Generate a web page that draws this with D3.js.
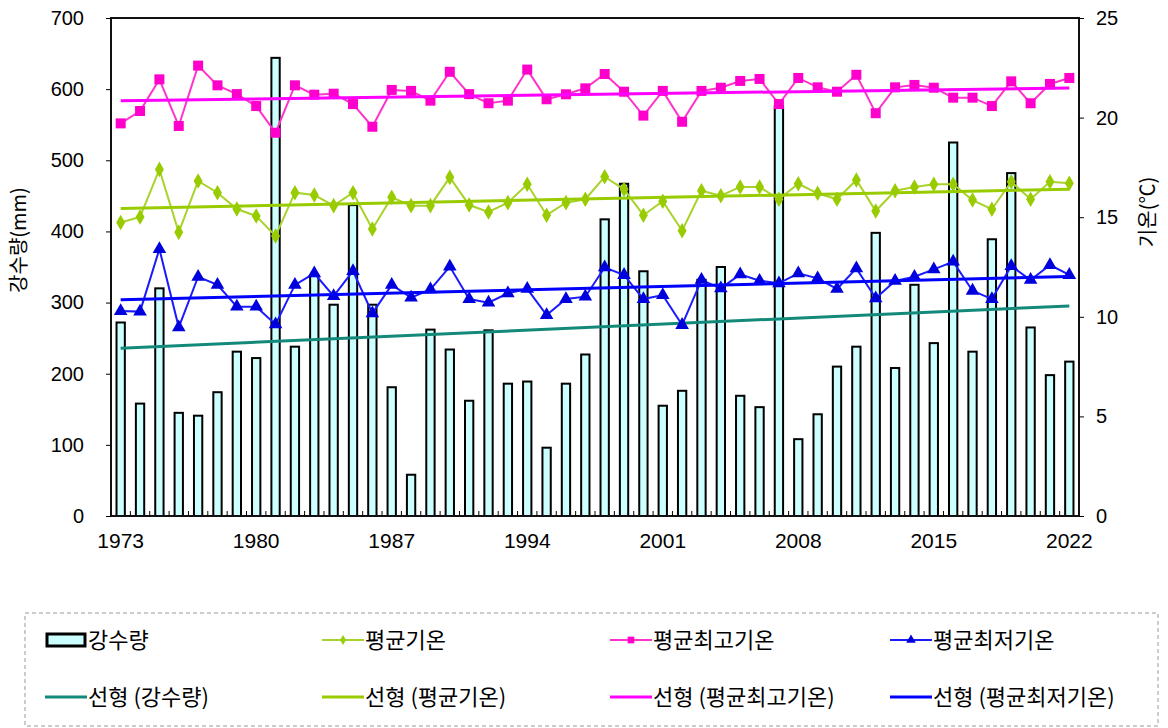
<!DOCTYPE html>
<html>
<head>
<meta charset="utf-8">
<script src="https://cdn.jsdelivr.net/npm/d3@7"></script>
<style>
  body { margin: 0; background: #fff; }
  text { font-family: "Liberation Sans", Arial, sans-serif; fill: #000; }
  .kr { font-family: "Noto Sans CJK KR", "Noto Sans", sans-serif; }
</style>
</head>
<body>
<svg id="chart" width="1168" height="728"></svg>
<script>
	var years = d3.range(1973, 2023),
		yearLabels = [1973, 1980, 1987, 1994, 2001, 2008, 2015, 2022],
		rainTicks = [0, 100, 200, 300, 400, 500, 600, 700],
		tempTicks = [0, 5, 10, 15, 20, 25];

	// 강수량 (mm)
	var rain = [272,158,320,145,141,174,231,222,644,238,
		338,297,437,297,181,58,262,234,162,261,
		186,189,96,186,227,417,467,344,155,176,
		332,350,169,153,576,108,143,210,238,398,
		208,325,243,525,231,389,482,265,198,217];

	// 평균최고기온
	var tMax = [19.71,20.33,21.92,19.58,22.61,21.62,21.18,20.58,19.24,21.62,
		21.15,21.2,20.68,19.54,21.39,21.34,20.85,22.3,21.18,20.72,
		20.85,22.41,20.92,21.17,21.47,22.19,21.3,20.1,21.34,19.79,
		21.34,21.5,21.84,21.94,20.68,21.99,21.52,21.3,22.15,20.22,
		21.52,21.64,21.5,21.0,21.0,20.58,21.82,20.72,21.69,21.99];

	// 평균기온
	var tMean = [14.73,15.01,17.4,14.24,16.82,16.23,15.41,15.06,14.06,16.23,
		16.11,15.58,16.23,14.41,16.0,15.58,15.58,17.0,15.61,15.26,
		15.73,16.65,15.1,15.73,15.9,17.03,16.4,15.1,15.8,14.32,
		16.33,16.08,16.52,16.52,15.9,16.68,16.2,15.9,16.87,15.31,
		16.33,16.52,16.65,16.65,15.86,15.4,16.78,15.9,16.78,16.7];

	// 평균최저기온
	var tMin = [10.29,10.26,13.4,9.47,12.01,11.6,10.51,10.51,9.62,11.6,
		12.18,11.04,12.3,10.17,11.6,10.96,11.38,12.52,10.89,10.71,
		11.18,11.4,10.09,10.89,11.01,12.48,12.1,10.89,11.09,9.59,
		11.85,11.43,12.13,11.81,11.68,12.18,11.93,11.4,12.43,10.93,
		11.8,12.01,12.38,12.77,11.31,10.89,12.55,11.85,12.6,12.1];

	var pL = 111, pR = 1079, pT = 18, pB = 516;

	var svg = d3.select("#chart");

	var x = d3.scaleBand().domain(years).range([pL, pR]),
		yL = d3.scaleLinear().domain([0, 700]).range([pB, pT]),
		yR = d3.scaleLinear().domain([0, 25]).range([pB, pT]);

	function cx(d, i) { return x(years[i]) + x.bandwidth() / 2; }

	// least squares trend, like the spreadsheet "선형" line
	function trend(vals) {
		var n = vals.length, mx = (n - 1) / 2, my = d3.mean(vals), sxy = 0, sxx = 0;
		vals.forEach(function(v, i) { sxy += (i - mx) * (v - my); sxx += (i - mx) * (i - mx); });
		var b = sxy / sxx;
		return [my - b * mx, my + b * (n - 1 - mx)];
	}

	// bars
	var barW = x.bandwidth() * 0.43;
	svg.append("g").selectAll("rect")
		.data(rain)
		.enter()
		.append("rect")
		.attr("x", function(d, i) { return cx(d, i) - barW / 2; })
		.attr("y", function(d) { return yL(d); })
		.attr("width", barW)
		.attr("height", function(d) { return pB - yL(d); })
		.attr("fill", "#ccffff")
		.attr("stroke", "#000")
		.attr("stroke-width", 2);

	// trend lines
	var x0 = x(years[0]) + x.bandwidth() / 2,
		x1 = x(years[years.length - 1]) + x.bandwidth() / 2;

	function trendLine(vals, scale, color) {
		var t = trend(vals);
		svg.append("line")
			.attr("x1", x0).attr("x2", x1)
			.attr("y1", scale(t[0])).attr("y2", scale(t[1]))
			.attr("stroke", color)
			.attr("stroke-width", 3);
	}

	var line = d3.line()
		.x(function(d, i) { return cx(d, i); })
		.y(function(d) { return yR(d); });

	function series(vals, color, markColor, shape, size) {
		svg.append("path")
			.datum(vals)
			.attr("d", line)
			.attr("fill", "none")
			.attr("stroke", color)
			.attr("stroke-width", 2);
		svg.append("g").selectAll("path")
			.data(vals)
			.enter()
			.append("path")
			.attr("transform", function(d, i) { return "translate(" + cx(d, i) + "," + yR(d) + ")"; })
			.attr("d", d3.symbol().type(shape).size(size))
			.attr("fill", markColor);
	}

	trendLine(rain, yL, "#13897a");

	series(tMax, "#ff33cc", "#ff00cc", d3.symbolSquare, 100);
	trendLine(tMax, yR, "#ff00ff");
	series(tMean, "#a8d32a", "#99cc00", d3.symbolDiamond, 70);
	trendLine(tMean, yR, "#99cc00");
	series(tMin, "#1a1aff", "#0000dd", d3.symbolTriangle, 80);
	trendLine(tMin, yR, "#0000ff");

	// frame
	svg.append("rect")
		.attr("x", pL).attr("y", pT)
		.attr("width", pR - pL).attr("height", pB - pT)
		.attr("fill", "none")
		.attr("stroke", "#111")
		.attr("stroke-width", 2);

	// x minor ticks at category edges
	svg.append("g").selectAll("line")
		.data(years.slice(1))
		.enter()
		.append("line")
		.attr("x1", function(d) { return x(d); })
		.attr("x2", function(d) { return x(d); })
		.attr("y1", pB).attr("y2", pB - 5)
		.attr("stroke", "#000")
		.attr("stroke-width", 1);

	svg.append("g").selectAll("text")
		.data(yearLabels)
		.enter()
		.append("text")
		.attr("x", function(d) { return x(d) + x.bandwidth() / 2; })
		.attr("y", 548)
		.attr("text-anchor", "middle")
		.style("font-size", "21px")
		.text(function(d) { return d; });

	// left axis
	var la = svg.append("g").attr("transform", "translate(" + pL + ",0)")
		.call(d3.axisLeft(yL).tickValues(rainTicks).tickSize(5).tickSizeOuter(0).tickPadding(22));
	la.select(".domain").remove();
	la.selectAll("line").attr("stroke", "#000");
	la.selectAll("text").style("font-size", "20px").attr("font-family", "Liberation Sans, Arial, sans-serif");

	// right axis
	var ra = svg.append("g").attr("transform", "translate(" + pR + ",0)")
		.call(d3.axisRight(yR).tickValues(tempTicks).tickSize(5).tickSizeOuter(0).tickPadding(12));
	ra.select(".domain").remove();
	ra.selectAll("line").attr("stroke", "#000");
	ra.selectAll("text").style("font-size", "20px").attr("font-family", "Liberation Sans, Arial, sans-serif");

	// axis titles
	svg.append("text")
		.attr("class", "kr")
		.attr("transform", "translate(26,240) rotate(-90)")
		.attr("text-anchor", "middle")
		.style("font-size", "20px")
		.text("강수량(mm)");

	svg.append("text")
		.attr("class", "kr")
		.attr("transform", "translate(1155,212) rotate(-90)")
		.attr("text-anchor", "middle")
		.style("font-size", "20px")
		.text("기온(℃)");

	// legend
	var lg = svg.append("g");
	lg.append("rect")
		.attr("x", 25).attr("y", 613)
		.attr("width", 1133).attr("height", 113)
		.attr("fill", "none")
		.attr("stroke", "#999")
		.attr("stroke-width", 1)
		.attr("stroke-dasharray", "4,3");

	var legendItems = [
		{ label: "강수량", kind: "bar", col: 0, row: 0 },
		{ label: "평균기온", kind: "mark", color: "#a8d32a", mark: "#99cc00", shape: d3.symbolDiamond, size: 30, col: 1, row: 0 },
		{ label: "평균최고기온", kind: "mark", color: "#ff33cc", mark: "#ff00cc", shape: d3.symbolSquare, size: 45, col: 2, row: 0 },
		{ label: "평균최저기온", kind: "mark", color: "#1a1aff", mark: "#0000dd", shape: d3.symbolTriangle, size: 40, col: 3, row: 0 },
		{ label: "선형 (강수량)", kind: "line", color: "#13897a", col: 0, row: 1 },
		{ label: "선형 (평균기온)", kind: "line", color: "#99cc00", col: 1, row: 1 },
		{ label: "선형 (평균최고기온)", kind: "line", color: "#ff00ff", col: 2, row: 1 },
		{ label: "선형 (평균최저기온)", kind: "line", color: "#0000ff", col: 3, row: 1 }
	];
	var colX = [45, 322, 610, 890], rowY = [640, 697];

	legendItems.forEach(function(d) {
		var gx = colX[d.col], gy = rowY[d.row];
		var g = lg.append("g").attr("transform", "translate(" + gx + "," + gy + ")");
		if (d.kind === "bar") {
			g.append("rect").attr("x", 2).attr("y", -6).attr("width", 38).attr("height", 12)
				.attr("fill", "#ccffff").attr("stroke", "#000").attr("stroke-width", 3);
		} else {
			g.append("line").attr("x1", 0).attr("x2", 42).attr("y1", 0).attr("y2", 0)
				.attr("stroke", d.color).attr("stroke-width", d.kind === "line" ? 3 : 2);
			if (d.kind === "mark") {
				g.append("path").attr("transform", "translate(21,0)")
					.attr("d", d3.symbol().type(d.shape).size(d.size)).attr("fill", d.mark);
			}
		}
		g.append("text")
			.attr("class", "kr")
			.attr("x", 43).attr("y", 0)
			.attr("dy", "0.36em")
			.style("font-size", "22px")
			.text(d.label);
	});
</script>
</body>
</html>
